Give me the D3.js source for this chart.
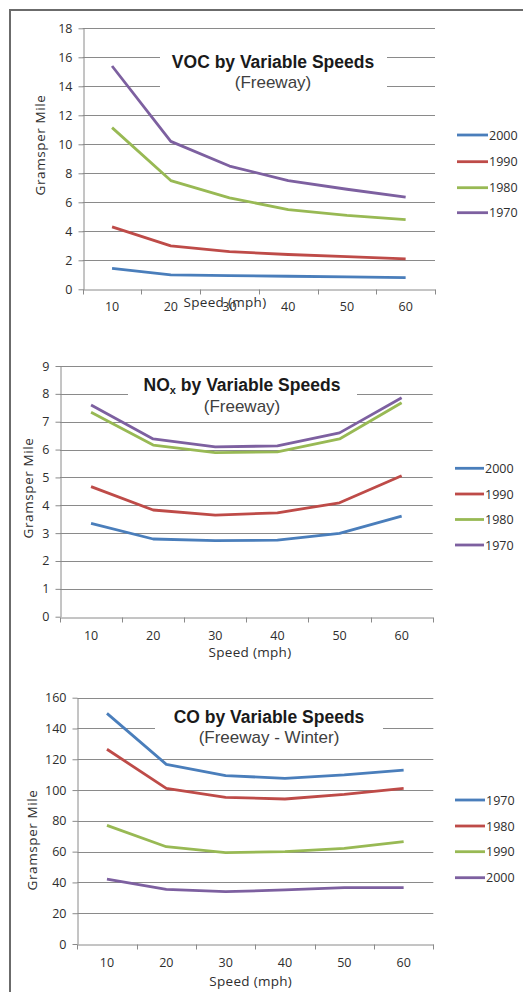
<!DOCTYPE html>
<html>
<head>
<meta charset="utf-8">
<script src="https://cdn.jsdelivr.net/npm/d3@7/dist/d3.min.js"></script>
<style>
  html, body { margin: 0; padding: 0; background: #fff; }
  svg { display: block; }
</style>
</head>
<body>
<svg id="chart" width="523" height="992"></svg>
<script>
// ---------- DATA ----------
const speeds = ["10", "20", "30", "40", "50", "60"];

// VOC (Freeway)
const vocYears = ["2000", "1990", "1980", "1970"];
const voc2000 = [1.45, 0.99, 0.95, 0.9, 0.85, 0.8];
const voc1990 = [4.3, 3.0, 2.6, 2.4, 2.25, 2.1];
const voc1980 = [11.15, 7.5, 6.3, 5.5, 5.1, 4.8];
const voc1970 = [15.4, 10.2, 8.5, 7.5, 6.9, 6.35];
const vocTicks = [0, 2, 4, 6, 8, 10, 12, 14, 16, 18];

// NOx (Freeway)
const noxYears = ["2000", "1990", "1980", "1970"];
const nox2000 = [3.35, 2.79, 2.73, 2.75, 2.99, 3.61];
const nox1990 = [4.67, 3.83, 3.65, 3.73, 4.09, 5.06];
const nox1980 = [7.34, 6.16, 5.89, 5.92, 6.38, 7.68];
const nox1970 = [7.6, 6.38, 6.1, 6.13, 6.6, 7.86];
const noxTicks = [0, 1, 2, 3, 4, 5, 6, 7, 8, 9];

// CO (Freeway - Winter)
const coYears = ["1970", "1980", "1990", "2000"];
const co1970 = [149.8, 116.7, 109.4, 107.6, 109.8, 113];
const co1980 = [126.5, 101.1, 95.3, 94.2, 97.2, 101.1];
const co1990 = [77.1, 63.2, 59.3, 60, 62.1, 66.5];
const co2000 = [42.2, 35.5, 34, 35.1, 36.6, 36.6];
const coTicks = [0, 20, 40, 60, 80, 100, 120, 140, 160];

// ---------- STYLE ----------
const seriesColors = ["#4A7EBB", "#BE4B48", "#98B954", "#7D60A0"];
const tickFont = "'Open Sans', 'DejaVu Sans', sans-serif";
const titleFont = "'Liberation Sans', Arial, sans-serif";
const gridColor = "#8A8A8A";
const textColor = "#2E2E2E";

const svg = d3.select("#chart");

// frame border (left + top)
svg.append("path")
  .attr("d", "M10,992 L10,10 L523,10")
  .attr("fill", "none")
  .attr("stroke", "#6B6B6B")
  .attr("stroke-width", 2);

function drawChart(cfg) {
  const g = svg.append("g");
  const x = d3.scaleBand().domain(speeds).range([cfg.left, cfg.right]).padding(0);
  const y = d3.scaleLinear().domain([0, cfg.ticks[cfg.ticks.length - 1]]).range([cfg.bottom, cfg.top]);

  // gridlines
  g.append("g").selectAll("line").data(cfg.ticks.filter(t => t > 0)).join("line")
    .attr("x1", cfg.left).attr("x2", cfg.right)
    .attr("y1", d => Math.round(y(d)) + 0.5).attr("y2", d => Math.round(y(d)) + 0.5)
    .attr("stroke", gridColor).attr("stroke-width", 1);

  // title background box
  g.append("rect")
    .attr("x", cfg.box[0]).attr("y", cfg.box[1])
    .attr("width", cfg.box[2] - cfg.box[0]).attr("height", cfg.box[3] - cfg.box[1])
    .attr("fill", "#fff");

  // y axis
  const yAxis = g.append("g")
    .attr("transform", `translate(${Math.round(cfg.left) + 0.5},0)`)
    .call(d3.axisLeft(y).tickValues(cfg.ticks).tickSize(5).tickPadding(6).tickSizeOuter(0));
  yAxis.select(".domain").attr("stroke", gridColor);
  yAxis.selectAll(".tick line").attr("stroke", gridColor);
  yAxis.selectAll(".tick text")
    .attr("font-family", tickFont).attr("font-size", 12.5).attr("fill", textColor);

  // x axis (category labels)
  const xAxis = g.append("g")
    .attr("transform", `translate(0,${Math.round(cfg.bottom) + 0.5})`)
    .call(d3.axisBottom(x).tickSize(0).tickPadding(cfg.xLabelPad).tickSizeOuter(0));
  xAxis.select(".domain").attr("stroke", gridColor);
  xAxis.selectAll(".tick text")
    .attr("font-family", tickFont).attr("font-size", 12.5).attr("fill", textColor);
  // boundary tick marks
  const bounds = d3.range(speeds.length + 1).map(i => cfg.left + i * x.step());
  xAxis.append("g").selectAll("line").data(bounds).join("line")
    .attr("x1", d => Math.round(d) + 0.5).attr("x2", d => Math.round(d) + 0.5)
    .attr("y1", 0).attr("y2", 5)
    .attr("stroke", gridColor);

  // series lines
  const line = d3.line()
    .x((d, i) => x(speeds[i]) + x.bandwidth() / 2)
    .y(d => y(d));
  cfg.series.forEach((vals, i) => {
    g.append("path")
      .datum(vals)
      .attr("d", line)
      .attr("fill", "none")
      .attr("stroke", seriesColors[i])
      .attr("stroke-width", 2.8)
      .attr("stroke-linejoin", "round")
      .attr("stroke-linecap", "butt");
  });

  // axis titles
  g.append("text")
    .attr("x", cfg.xTitle[0]).attr("y", cfg.xTitle[1])
    .attr("text-anchor", "middle")
    .attr("font-family", tickFont).attr("font-size", 13.5).attr("letter-spacing", 0.3)
    .attr("fill", textColor)
    .text("Speed (mph)");
  g.append("text")
    .attr("transform", `translate(${cfg.yTitle[0]},${cfg.yTitle[1]}) rotate(-90)`)
    .attr("text-anchor", "middle")
    .attr("dominant-baseline", "central")
    .attr("font-family", tickFont).attr("font-size", 13.5).attr("letter-spacing", 0.6)
    .attr("fill", textColor)
    .text("Gramsper Mile");

  // chart title
  const t = g.append("text")
    .attr("x", cfg.titlePos[0]).attr("y", cfg.titlePos[1])
    .attr("text-anchor", "middle")
    .attr("font-family", titleFont).attr("font-size", 17.5).attr("font-weight", "bold")
    .attr("fill", "#1A1A1A");
  cfg.title.forEach(part => {
    const ts = t.append("tspan").text(part.text);
    if (part.sub) ts.attr("font-size", 11).attr("baseline-shift", "-3");
  });
  g.append("text")
    .attr("x", cfg.titlePos[0]).attr("y", cfg.subPos)
    .attr("text-anchor", "middle")
    .attr("font-family", titleFont).attr("font-size", 17)
    .attr("fill", "#404040")
    .text(cfg.subtitle);

  // legend
  cfg.years.forEach((yr, i) => {
    const ly = cfg.legend.y[i];
    g.append("line")
      .attr("x1", cfg.legend.x0).attr("x2", cfg.legend.x1)
      .attr("y1", ly).attr("y2", ly)
      .attr("stroke", seriesColors[i]).attr("stroke-width", 2.8);
    g.append("text")
      .attr("x", cfg.legend.x1 + 1).attr("y", ly)
      .attr("dominant-baseline", "central")
      .attr("font-family", tickFont).attr("font-size", 12.5).attr("fill", textColor)
      .text(yr);
  });
}

drawChart({
  left: 82.7, right: 435, top: 28.3, bottom: 289.3,
  ticks: vocTicks, series: [voc2000, voc1990, voc1980, voc1970], years: vocYears,
  xLabelPad: 13, xTitle: [225, 306.5], yTitle: [40, 145],
  title: [{ text: "VOC by Variable Speeds" }], subtitle: "(Freeway)",
  titlePos: [273, 68], subPos: 88, box: [160, 44, 387, 95],
  legend: { x0: 457, x1: 488, y: [135, 161.7, 187.7, 212.7] }
});

drawChart({
  left: 60, right: 432.7, top: 366, bottom: 616.7,
  ticks: noxTicks, series: [nox2000, nox1990, nox1980, nox1970], years: noxYears,
  xLabelPad: 14, xTitle: [250, 657], yTitle: [28, 488],
  title: [{ text: "NO" }, { text: "x", sub: true }, { text: " by Variable Speeds" }], subtitle: "(Freeway)",
  titlePos: [242, 391], subPos: 411.5, box: [128, 370, 357, 415],
  legend: { x0: 455, x1: 484, y: [468.3, 494, 519.5, 545] }
});

drawChart({
  left: 77.3, right: 433.3, top: 697.7, bottom: 944,
  ticks: coTicks, series: [co1970, co1980, co1990, co2000], years: coYears,
  xLabelPad: 14, xTitle: [250.7, 986], yTitle: [31.7, 840],
  title: [{ text: "CO by Variable Speeds" }], subtitle: "(Freeway - Winter)",
  titlePos: [269, 723], subPos: 742.5, box: [155, 702, 383, 748],
  legend: { x0: 455, x1: 485, y: [800, 826, 851.7, 877.7] }
});
</script>
</body>
</html>
